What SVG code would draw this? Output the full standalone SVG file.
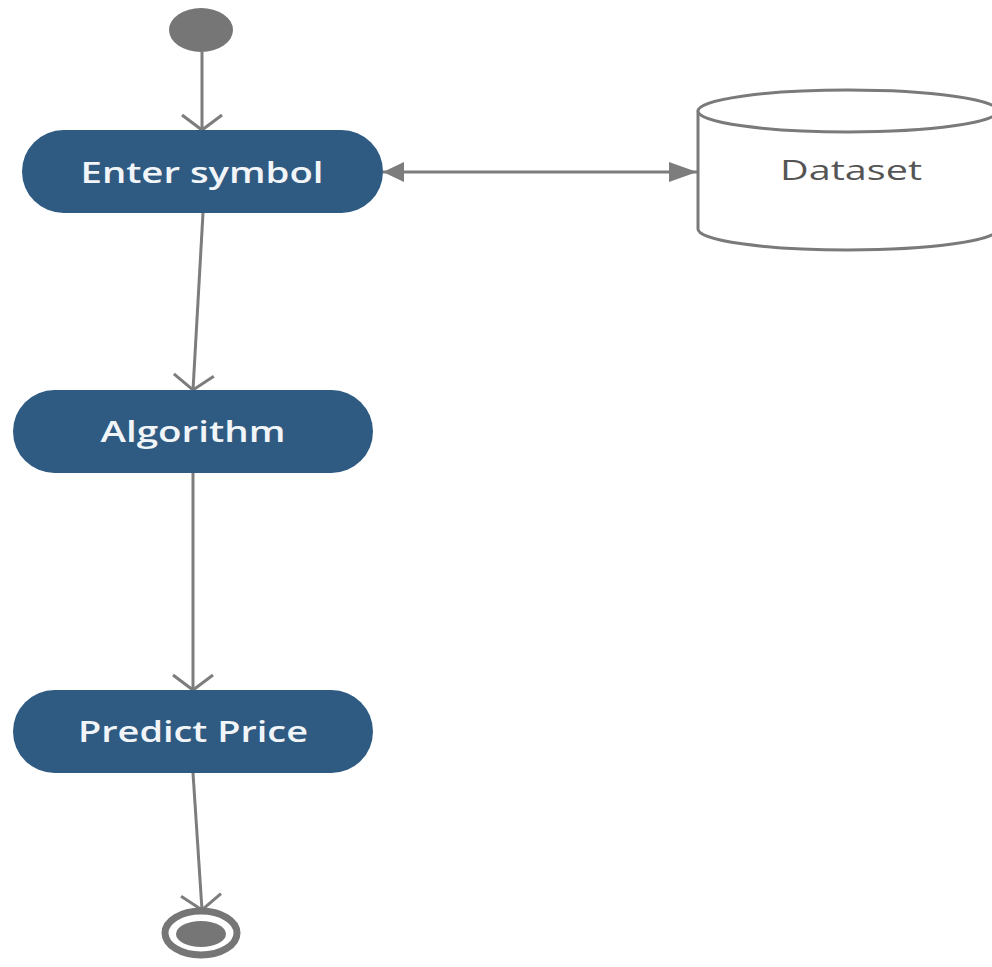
<svg xmlns="http://www.w3.org/2000/svg" width="992" height="967" viewBox="0 0 992 967">
  <style>
    .act { fill: #2f5b83; }
    .act-label { fill: #f2f5f8; font-family: "Open Sans", "Noto Sans", sans-serif; font-size: 28px; font-weight: 600; text-anchor: middle; }
    .store { fill: #ffffff; stroke: #7a7a7a; stroke-width: 3; }
    .store-label { fill: #555555; font-family: "Open Sans", "Noto Sans", sans-serif; font-size: 28px; text-anchor: middle; }
    .flow { fill: none; stroke: #7d7d7d; stroke-width: 3; }
    .dot { fill: #767676; }
  </style>
  <defs>
    <marker id="open" markerUnits="userSpaceOnUse" markerWidth="40" markerHeight="50" viewBox="-20 -25 40 50" refX="0" refY="0" orient="auto">
      <path d="M-15,-20 L0,0 L-15,20" fill="none" stroke="#7d7d7d" stroke-width="3"/>
    </marker>
    <marker id="solidEnd" markerUnits="userSpaceOnUse" markerWidth="40" markerHeight="30" viewBox="-30 -15 40 30" refX="0" refY="0" orient="auto">
      <path d="M-28,-10 L0,0 L-28,10 Z" fill="#7d7d7d"/>
    </marker>
    <marker id="solidStart" markerUnits="userSpaceOnUse" markerWidth="30" markerHeight="30" viewBox="-25 -15 30 30" refX="0" refY="0" orient="auto-start-reverse">
      <path d="M-21,-10 L0,0 L-21,10 Z" fill="#7d7d7d"/>
    </marker>
  </defs>

  <rect width="992" height="967" fill="#ffffff"/>

  <!-- connectors -->
  <g id="connectors">
    <path class="flow" d="M202,52 L202,130" marker-end="url(#open)"/>
    <path class="flow" d="M383,172 L697,172" marker-start="url(#solidStart)" marker-end="url(#solidEnd)"/>
    <path class="flow" d="M203,213 L193,390" marker-end="url(#open)"/>
    <path class="flow" d="M193,473 L193,690" marker-end="url(#open)"/>
    <path class="flow" d="M193,773 L202,910" marker-end="url(#open)"/>
  </g>

  <!-- start node -->
  <g id="start">
    <ellipse class="dot" cx="201" cy="30" rx="32" ry="22"/>
  </g>

  <g id="enter-symbol">
    <rect class="act" x="22" y="130" width="361" height="83" rx="41.5"/>
    <text class="act-label" x="202" y="183" textLength="243" lengthAdjust="spacingAndGlyphs">Enter symbol</text>
  </g>

  <g id="dataset">
    <path class="store" d="M698,111 L698,229 A150,21 0 0 0 998,229 L998,111"/>
    <ellipse class="store" cx="848" cy="111" rx="150" ry="21"/>
    <text class="store-label" x="851" y="180" textLength="142" lengthAdjust="spacingAndGlyphs">Dataset</text>
  </g>

  <g id="algorithm">
    <rect class="act" x="13" y="390" width="360" height="83" rx="41.5"/>
    <text class="act-label" x="193" y="442" textLength="185" lengthAdjust="spacingAndGlyphs">Algorithm</text>
  </g>

  <g id="predict-price">
    <rect class="act" x="13" y="690" width="360" height="83" rx="41.5"/>
    <text class="act-label" x="193" y="742" textLength="230" lengthAdjust="spacingAndGlyphs">Predict Price</text>
  </g>

  <!-- final node -->
  <g id="end">
    <ellipse cx="201" cy="933" rx="36" ry="22" fill="none" stroke="#767676" stroke-width="7"/>
    <ellipse class="dot" cx="201" cy="934" rx="25" ry="13"/>
  </g>
</svg>
